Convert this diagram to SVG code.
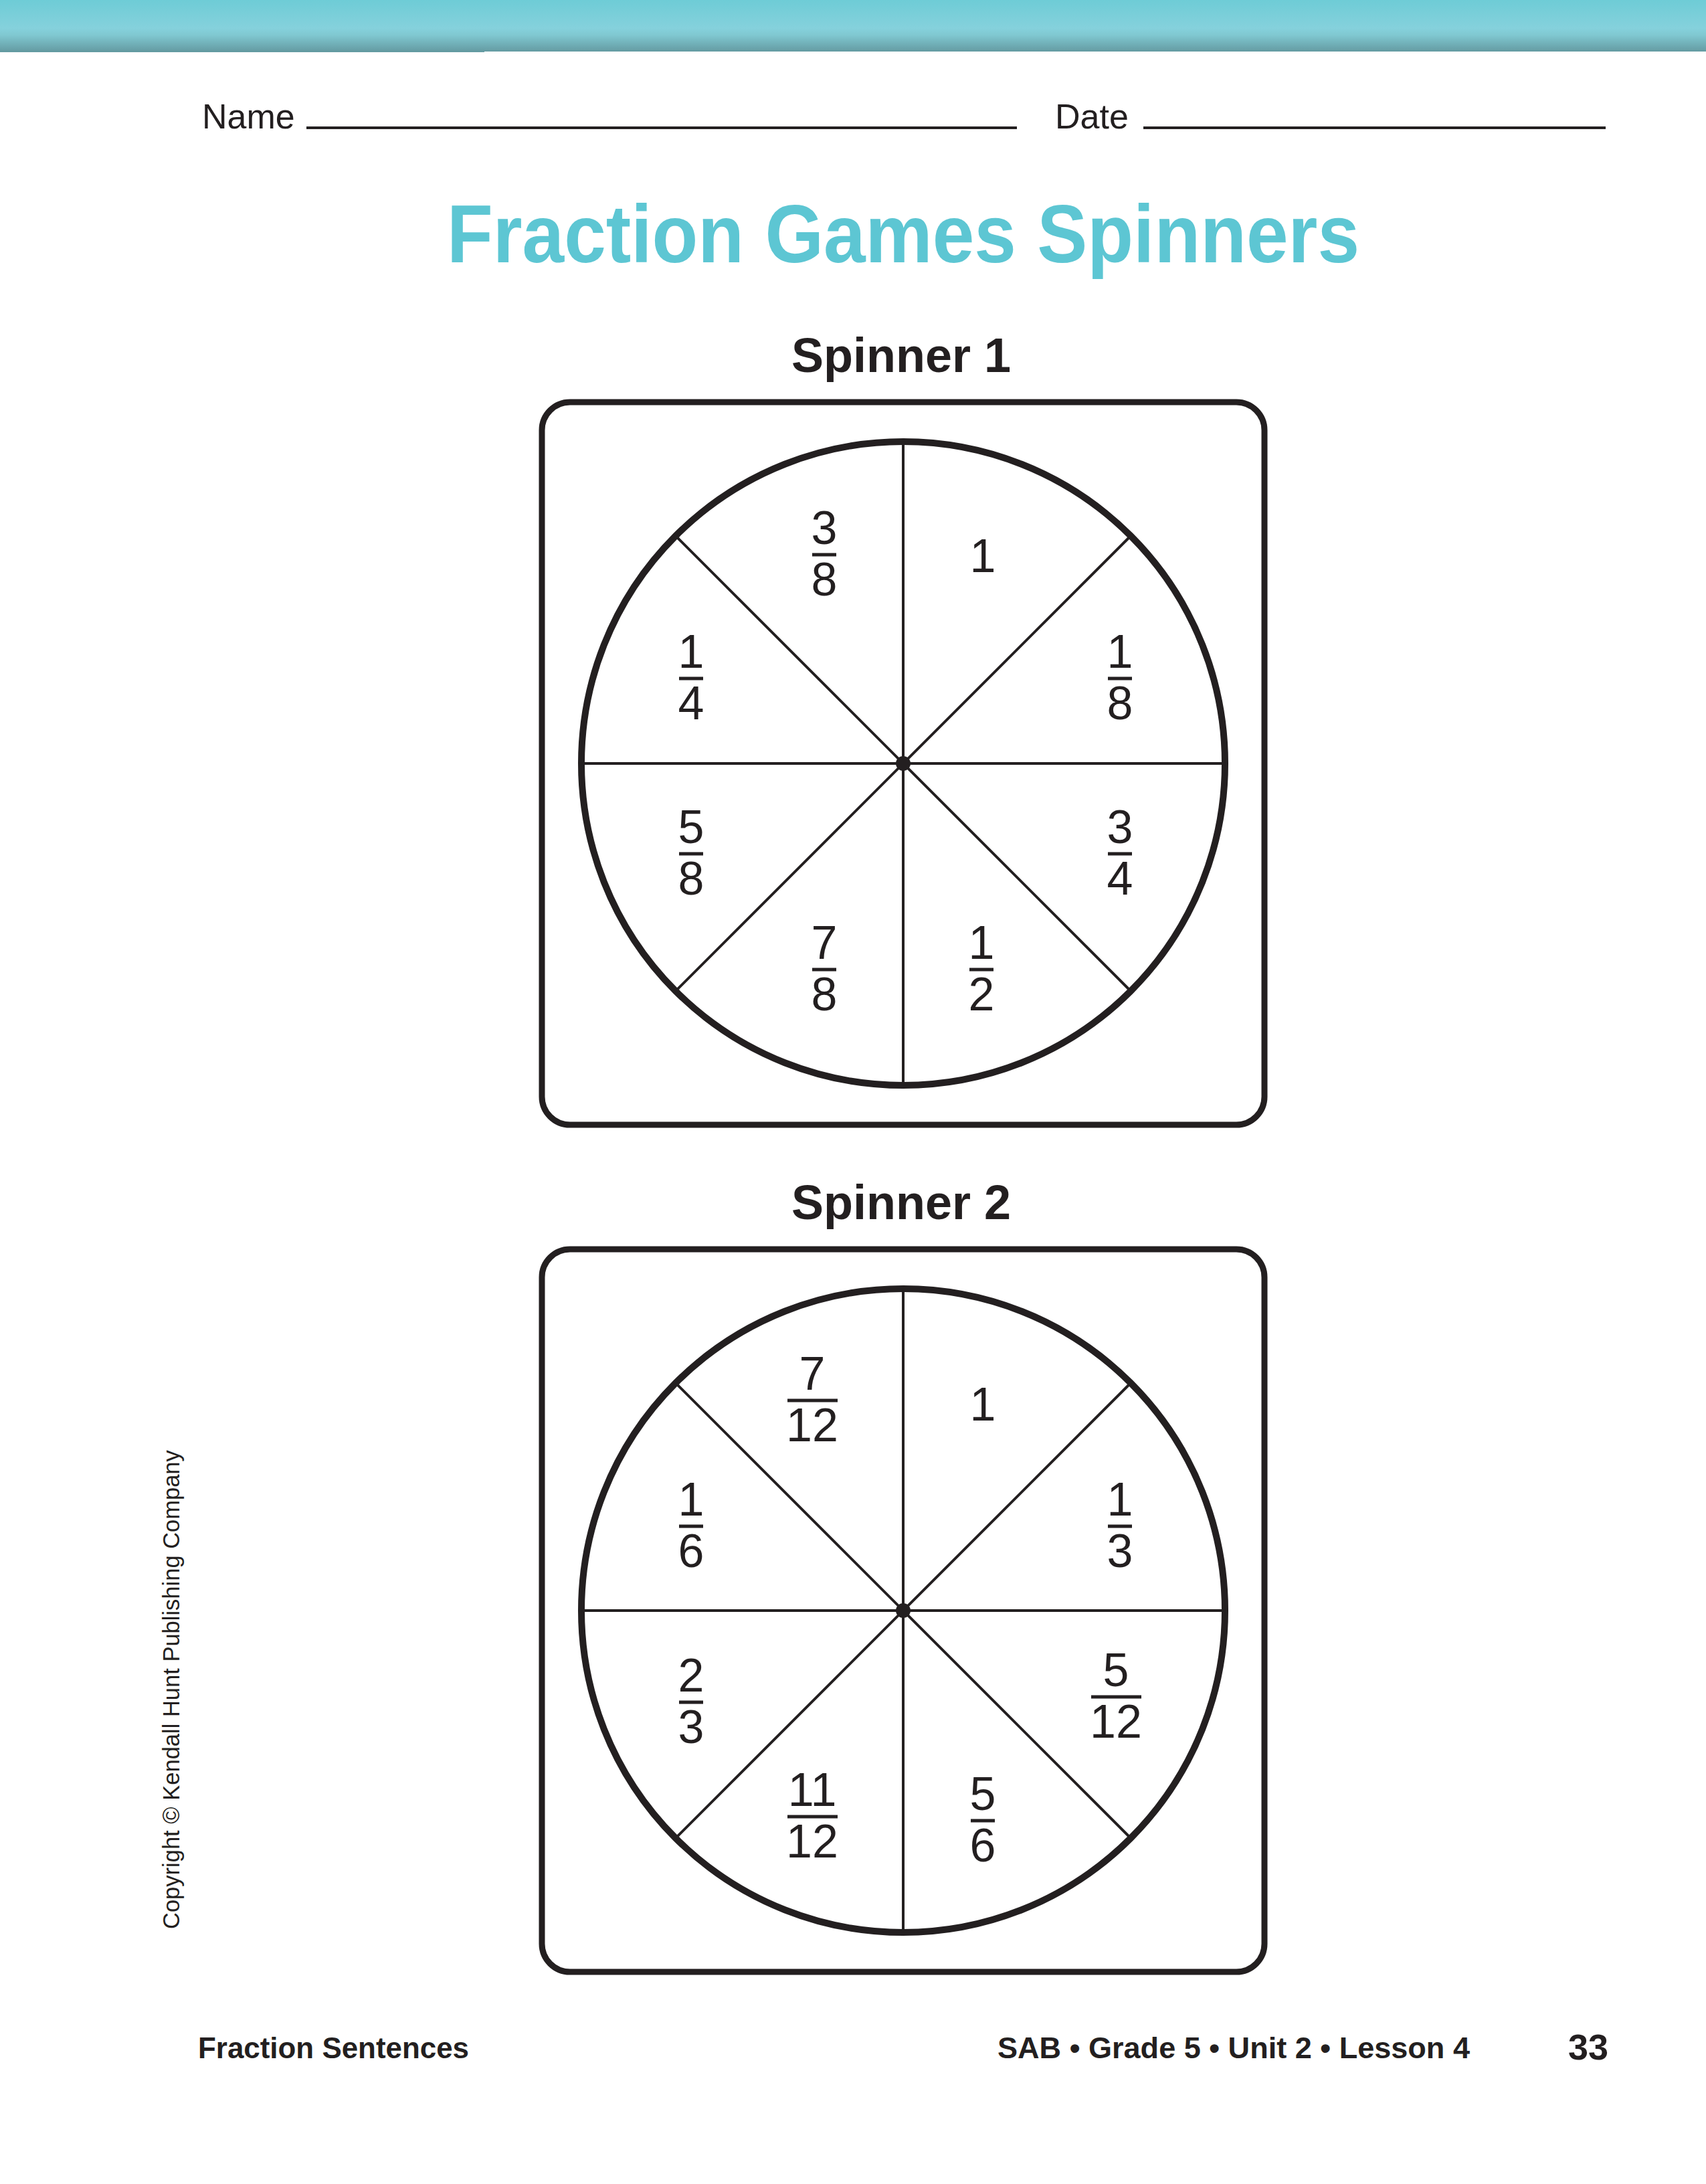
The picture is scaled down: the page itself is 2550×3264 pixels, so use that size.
<svg xmlns="http://www.w3.org/2000/svg" width="2550" height="3264" viewBox="0 0 2550 3264">
<defs>
<linearGradient id="band" x1="0" y1="0" x2="0" y2="1">
<stop offset="0" stop-color="#6ECCD6"/>
<stop offset="0.55" stop-color="#85D1DC"/>
<stop offset="0.68" stop-color="#80C8D1"/>
<stop offset="1" stop-color="#649BA2"/>
</linearGradient>
<style>
.frame{fill:none;stroke:#231f20;stroke-width:9}
.wheel{fill:none;stroke:#231f20;stroke-width:10}
.spoke{stroke:#231f20;stroke-width:4}
.bar{stroke:#231f20;stroke-width:5}
.num{font-family:"Liberation Sans",Arial,sans-serif;font-size:70px;fill:#231f20;text-anchor:middle}
.head{font-family:"Liberation Sans",Arial,sans-serif;font-size:72px;font-weight:bold;fill:#231f20;text-anchor:middle}
.foot{font-family:"Liberation Sans",Arial,sans-serif;font-weight:bold;fill:#231f20}
.nm{font-family:"Liberation Sans",Arial,sans-serif;font-size:52px;fill:#231f20}
</style>
</defs>
<rect width="2550" height="3264" fill="#ffffff"/>
<rect x="0" y="0" width="2550" height="77" fill="url(#band)"/>
<rect x="0" y="75" width="724" height="3" fill="#649BA2"/>

<g id="name-date">
<text class="nm" x="302" y="192">Name</text>
<line x1="458" y1="191" x2="1520" y2="191" stroke="#231f20" stroke-width="4"/>
<text class="nm" x="1577" y="192">Date</text>
<line x1="1709" y1="191" x2="2400" y2="191" stroke="#231f20" stroke-width="4"/>
</g>

<text id="title" x="1350" y="392" font-family="'Liberation Sans',Arial,sans-serif" font-size="122" font-weight="bold" fill="#5DC6D3" text-anchor="middle" textLength="1364" lengthAdjust="spacingAndGlyphs">Fraction Games Spinners</text>

<g id="spinner1">
<text class="head" x="1347" y="556">Spinner 1</text>
<rect class="frame" x="810" y="601" width="1080" height="1080" rx="42"/>
<g id="spokes1">
<line class="spoke" x1="1350" y1="660" x2="1350" y2="1622"/>
<line class="spoke" x1="869" y1="1141" x2="1831" y2="1141"/>
<line class="spoke" x1="1010" y1="801" x2="1690" y2="1481"/>
<line class="spoke" x1="1690" y1="801" x2="1010" y2="1481"/>
</g>
<circle class="wheel" cx="1350" cy="1141" r="481"/>
<circle cx="1350" cy="1141" r="11" fill="#231f20"/>
<g id="s1-labels">
<text class="num" x="1232" y="813">3</text><line class="bar" x1="1214" y1="829" x2="1250" y2="829"/><text class="num" x="1232" y="890">8</text>
<text class="num" x="1469" y="855">1</text>
<text class="num" x="1033" y="998">1</text><line class="bar" x1="1015" y1="1014" x2="1051" y2="1014"/><text class="num" x="1033" y="1075">4</text>
<text class="num" x="1674" y="998">1</text><line class="bar" x1="1656" y1="1014" x2="1692" y2="1014"/><text class="num" x="1674" y="1075">8</text>
<text class="num" x="1033" y="1260">5</text><line class="bar" x1="1015" y1="1276" x2="1051" y2="1276"/><text class="num" x="1033" y="1337">8</text>
<text class="num" x="1674" y="1260">3</text><line class="bar" x1="1656" y1="1276" x2="1692" y2="1276"/><text class="num" x="1674" y="1337">4</text>
<text class="num" x="1232" y="1433">7</text><line class="bar" x1="1214" y1="1449" x2="1250" y2="1449"/><text class="num" x="1232" y="1510">8</text>
<text class="num" x="1467" y="1433">1</text><line class="bar" x1="1449" y1="1449" x2="1485" y2="1449"/><text class="num" x="1467" y="1510">2</text>
</g>
</g>

<g id="spinner2">
<text class="head" x="1347" y="1822">Spinner 2</text>
<rect class="frame" x="810" y="1867" width="1080" height="1080" rx="42"/>
<g id="spokes2">
<line class="spoke" x1="1350" y1="1926" x2="1350" y2="2888"/>
<line class="spoke" x1="869" y1="2407" x2="1831" y2="2407"/>
<line class="spoke" x1="1010" y1="2067" x2="1690" y2="2747"/>
<line class="spoke" x1="1690" y1="2067" x2="1010" y2="2747"/>
</g>
<circle class="wheel" cx="1350" cy="2407" r="481"/>
<circle cx="1350" cy="2407" r="11" fill="#231f20"/>
<g id="s2-labels">
<text class="num" x="1214" y="2077">7</text><line class="bar" x1="1177" y1="2093" x2="1252" y2="2093"/><text class="num" x="1214" y="2154">12</text>
<text class="num" x="1469" y="2123">1</text>
<text class="num" x="1033" y="2265">1</text><line class="bar" x1="1015" y1="2281" x2="1051" y2="2281"/><text class="num" x="1033" y="2342">6</text>
<text class="num" x="1674" y="2265">1</text><line class="bar" x1="1656" y1="2281" x2="1692" y2="2281"/><text class="num" x="1674" y="2342">3</text>
<text class="num" x="1033" y="2528">2</text><line class="bar" x1="1015" y1="2544" x2="1051" y2="2544"/><text class="num" x="1033" y="2605">3</text>
<text class="num" x="1668" y="2520">5</text><line class="bar" x1="1631" y1="2536" x2="1706" y2="2536"/><text class="num" x="1668" y="2597">12</text>
<text class="num" x="1214" y="2699">11</text><line class="bar" x1="1177" y1="2715" x2="1252" y2="2715"/><text class="num" x="1214" y="2776">12</text>
<text class="num" x="1469" y="2705">5</text><line class="bar" x1="1451" y1="2721" x2="1487" y2="2721"/><text class="num" x="1469" y="2782">6</text>
</g>
</g>

<text id="copyright" transform="translate(268,2883) rotate(-90)" font-family="'Liberation Sans',Arial,sans-serif" font-size="34.5" fill="#231f20">Copyright © Kendall Hunt Publishing Company</text>

<g id="footer">
<text class="foot" x="296" y="3076" font-size="44" textLength="405" lengthAdjust="spacingAndGlyphs">Fraction Sentences</text>
<text class="foot" x="1491" y="3076" font-size="44" textLength="706" lengthAdjust="spacingAndGlyphs">SAB • Grade 5 • Unit 2 • Lesson 4</text>
<text class="foot" x="2404" y="3078" font-size="54" text-anchor="end">33</text>
</g>
</svg>
